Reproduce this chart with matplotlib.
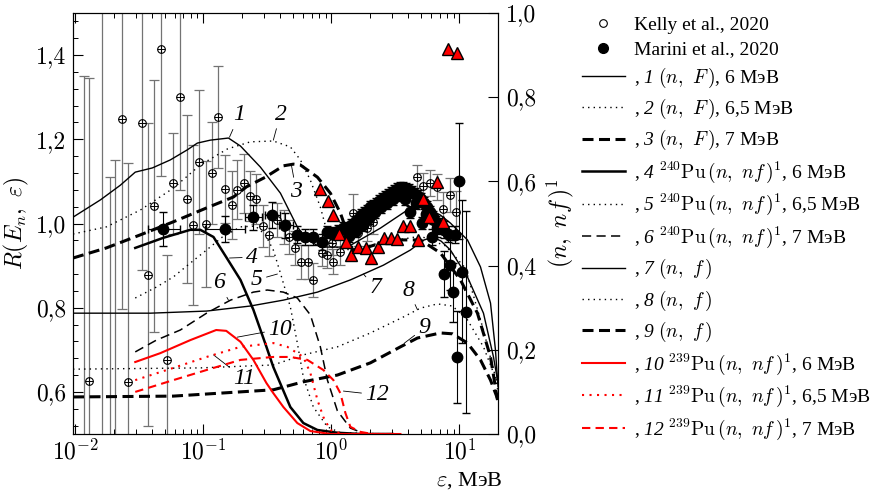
import matplotlib
matplotlib.use("Agg")
import matplotlib.pyplot as plt
from matplotlib.lines import Line2D
from matplotlib.ticker import MultipleLocator, LogLocator, NullFormatter, NullLocator

plt.rcParams.update({
    "font.family": "Liberation Serif",
    "mathtext.fontset": "custom",
    "mathtext.rm": "cmr10",
    "mathtext.it": "cmmi10",
    "mathtext.bf": "cmb10",
    "mathtext.sf": "Liberation Serif:italic",
    "mathtext.cal": "cmsy10",
    "mathtext.tt": "cmtt10",
    "mathtext.fallback": "cm",
})

# ---- calculated curves, left axis R(E_n, eps) ----
e1 = [0.0096, 0.0157, 0.0225, 0.0294, 0.040, 0.0552, 0.075, 0.0898, 0.1135, 0.157, 0.195, 0.279,
      0.400, 0.542, 0.649, 0.820, 1.334, 2.414, 3.924, 5.0, 6.15, 7.1, 8.5, 11.55, 14.59, 17.48, 19.1, 20.0]
r1 = [1.015, 1.056, 1.091, 1.122, 1.132, 1.151, 1.175, 1.191, 1.198, 1.203, 1.184, 1.134,
      1.072, 0.992, 0.961, 0.944, 0.944, 0.989, 1.032, 1.038, 1.030, 1.020, 1.001, 0.961, 0.897, 0.811, 0.700, 0.612]

e2 = [0.0096, 0.0175, 0.0322, 0.0583, 0.0947, 0.154, 0.233, 0.352, 0.478, 0.573, 0.685, 0.820,
      0.931, 1.074, 1.407, 2.414, 4.957, 7.773, 11.14, 15.40, 19.11, 20.0]
r2 = [0.975, 0.992, 1.032, 1.084, 1.139, 1.177, 1.194, 1.196, 1.182, 1.151, 1.103, 1.039,
      0.977, 0.944, 0.937, 0.954, 0.970, 0.947, 0.894, 0.747, 0.635, 0.600]

e3 = [0.0096, 0.0175, 0.0322, 0.0583, 0.106, 0.172, 0.217, 0.305, 0.422, 0.505, 0.573, 0.778,
      0.982, 1.175, 1.334, 1.459, 1.843, 2.889, 4.957, 7.105, 10.18, 13.82, 17.48, 19.81]
r3 = [0.918, 0.942, 0.973, 1.004, 1.037, 1.063, 1.087, 1.110, 1.137, 1.141, 1.139, 1.110,
      1.072, 1.025, 0.977, 0.937, 0.942, 0.961, 0.961, 0.930, 0.866, 0.787, 0.683, 0.581]

e7 = [0.0096, 0.0386, 0.106, 0.233, 0.422, 0.778, 1.407, 2.547, 4.141, 5.2, 6.2, 7.2, 8.5,
      11.55, 15.40, 18.44, 20.0]
r7 = [0.787, 0.787, 0.792, 0.804, 0.818, 0.837, 0.866, 0.901, 0.937, 0.960, 0.968, 0.958, 0.937,
      0.873, 0.787, 0.683, 0.621]

e8 = [0.0096, 0.0947, 0.352, 0.604, 1.114, 2.017, 3.652, 4.957, 6.731, 8.816, 11.55, 15.40, 19.81]
r8 = [0.654, 0.657, 0.664, 0.688, 0.707, 0.740, 0.778, 0.799, 0.809, 0.804, 0.771, 0.707, 0.621]

e9 = [0.0096, 0.0583, 0.352, 0.604, 1.114, 2.017, 3.461, 4.697, 7.105, 8.816, 11.55, 14.59, 17.48, 20.0]
r9 = [0.588, 0.590, 0.605, 0.624, 0.640, 0.669, 0.707, 0.728, 0.740, 0.738, 0.716, 0.676, 0.628, 0.581]

# ---- (n, nf)^1 curves, right axis ----
e4 = [0.0294, 0.0487, 0.0791, 0.0947, 0.120, 0.151, 0.195, 0.246, 0.311, 0.352, 0.478, 0.604,
      0.778, 1.114, 1.685, 3.0]
r4 = [0.442, 0.466, 0.485, 0.485, 0.468, 0.420, 0.366, 0.295, 0.207, 0.159, 0.064, 0.026,
      0.0095, 0.003, 0.0, 0.0]

e5 = [0.0294, 0.0430, 0.0583, 0.0791, 0.106, 0.141, 0.195, 0.255, 0.305, 0.352, 0.400, 0.478,
      0.542, 0.604, 0.723, 0.931, 1.175, 3.0]
r5 = [0.323, 0.349, 0.373, 0.406, 0.437, 0.468, 0.492, 0.494, 0.473, 0.437, 0.382, 0.302,
      0.216, 0.135, 0.064, 0.017, 0.003, 0.0]

e6 = [0.0294, 0.0430, 0.0661, 0.106, 0.163, 0.246, 0.316, 0.422, 0.542, 0.685, 0.820, 0.931,
      1.114, 1.407, 1.843, 3.0]
r6 = [0.195, 0.223, 0.247, 0.287, 0.318, 0.337, 0.342, 0.337, 0.323, 0.283, 0.207, 0.128,
      0.055, 0.014, 0.0, 0.0]

e10 = [0.0294, 0.0461, 0.0791, 0.126, 0.151, 0.195, 0.246, 0.311, 0.352, 0.422, 0.542, 0.685, 0.982, 3.46]
r10 = [0.171, 0.192, 0.223, 0.247, 0.245, 0.219, 0.176, 0.121, 0.097, 0.064, 0.026, 0.007, 0.0, 0.0]

e11 = [0.0294, 0.0583, 0.106, 0.195, 0.352, 0.453, 0.604, 0.685, 0.778, 0.866, 0.982, 1.219, 3.0]
r11 = [0.128, 0.157, 0.183, 0.207, 0.216, 0.207, 0.183, 0.145, 0.081, 0.040, 0.0095, 0.0, 0.0]

e12 = [0.0294, 0.0583, 0.106, 0.195, 0.352, 0.478, 0.649, 0.866, 1.037, 1.175, 1.286, 1.407,
       1.685, 2.091, 3.0]
r12 = [0.100, 0.128, 0.152, 0.176, 0.183, 0.183, 0.176, 0.152, 0.128, 0.097, 0.050, 0.017,
       0.005, 0.0, 0.0]

# ---- Kelly et al., 2020 ----
kelly_e = [0.0118, 0.0129, 0.0163, 0.0188, 0.0205, 0.0233, 0.026, 0.0334, 0.0372, 0.0414, 0.047,
           0.0523, 0.0583, 0.0661, 0.075, 0.0835, 0.0931, 0.104, 0.1175, 0.131, 0.148, 0.166,
           0.184, 0.209, 0.233, 0.260, 0.294, 0.328, 0.379, 0.430, 0.470, 0.523, 0.583, 0.661,
           0.723, 0.851, 0.931, 1.018, 1.037, 1.175, 1.486, 1.625, 1.910, 2.129, 4.697, 5.231,
           5.934, 6.731, 7.499, 8.504, 9.474]
kelly_r = [0.40, 0.626, 0.45, 0.40, 0.45, 1.248, 0.624, 1.239, 0.878, 1.042, 1.414,
           0.676, 1.096, 1.300, 1.058, 0.996, 1.146, 0.999, 1.120, 1.253, 1.082, 1.044,
           1.080, 1.096, 1.065, 1.058, 0.994, 0.973, 1.008, 0.992, 0.968, 0.942, 0.909, 0.909,
           0.866, 0.930, 0.925, 0.954, 0.909, 0.932, 1.025, 0.977, 0.989, 1.004, 1.110, 1.089,
           1.096, 1.087, 1.034, 1.068, 1.027]
kelly_err = [0.95, 0.72, 1.1, 0.71, 0.70, 0.45, 0.52, 0.35, 0.36, 0.30, 0.30,
             0.25, 0.12, 0.22, 0.20, 0.19, 0.17, 0.15, 0.12, 0.12, 0.08, 0.08,
             0.07, 0.07, 0.06, 0.06, 0.05, 0.05, 0.04, 0.04, 0.04, 0.04, 0.04, 0.04,
             0.04, 0.03, 0.03, 0.03, 0.03, 0.03, 0.045, 0.03, 0.03, 0.03, 0.03, 0.03,
             0.03, 0.03, 0.04, 0.04, 0.05]

# ---- Marini et al., 2020 ----
marini_low_e = [0.0487, 0.148, 0.246, 0.346, 0.437]
marini_low_r = [0.987, 0.987, 1.015, 1.020, 0.996]
marini_low_err = [0.04, 0.03, 0.03, 0.03, 0.03]
marini_low_xlo = [0.012, 0.045, 0.035, 0.045, 0.05]
marini_low_xhi = [0.017, 0.065, 0.04, 0.05, 0.06]

marini_e = [0.542, 0.627, 0.723, 0.851, 0.931, 1.037, 1.134, 1.241, 1.334, 1.383, 1.433, 1.540,
            1.568, 1.625, 1.715, 1.778, 1.810, 1.910, 1.98, 2.017, 2.129, 2.207, 2.247, 2.371,
            2.458, 2.502, 2.640, 2.74, 2.787, 2.941, 3.05, 3.105, 3.278, 3.40, 3.461, 3.652,
            3.785, 3.854, 4.067, 4.141, 4.293, 4.531, 4.61, 4.782, 5.047, 5.138, 5.326, 5.52,
            5.623, 5.934, 6.152, 6.264, 6.611, 6.731, 7.105, 7.635, 8.204, 9.305,
            10.0, 7.635, 8.504, 8.976, 10.55, 11.34, 9.645]
marini_r = [0.973, 0.968, 0.968, 0.956, 0.980, 0.977, 0.982, 0.989, 0.987, 0.970, 0.996, 1.004,
            0.982, 1.011, 1.020, 0.996, 1.025, 1.030, 1.013, 1.039, 1.042, 1.027, 1.046, 1.053,
            1.039, 1.058, 1.063, 1.049, 1.068, 1.072, 1.058, 1.077, 1.082, 1.068, 1.084, 1.084,
            1.058, 1.082, 1.080, 1.027, 1.075, 1.070, 1.049, 1.065, 1.058, 1.001, 1.049, 1.023,
            1.039, 1.027, 0.968, 1.015, 1.004, 0.989, 0.994, 0.985, 0.975, 0.973,
            1.101, 0.880, 0.901, 0.837, 0.885, 0.790, 0.683]
marini_err = [0.02, 0.02, 0.02, 0.02, 0.015, 0.015, 0.015, 0.015, 0.015, 0.015, 0.015, 0.015,
              0.015, 0.015, 0.015, 0.015, 0.015, 0.015, 0.015, 0.015, 0.015, 0.015, 0.015, 0.015,
              0.015, 0.015, 0.015, 0.015, 0.015, 0.015, 0.015, 0.015, 0.015, 0.015, 0.015, 0.015,
              0.015, 0.015, 0.015, 0.015, 0.015, 0.015, 0.015, 0.015, 0.015, 0.015, 0.015, 0.015,
              0.015, 0.015, 0.02, 0.015, 0.015, 0.02, 0.02, 0.02, 0.02, 0.02,
              0.138, 0.055, 0.06, 0.07, 0.17, 0.24, 0.11]

# ---- red triangles ----
tri_e = [0.820, 0.947, 1.037, 1.155, 1.310, 1.433, 1.625, 1.876, 2.054, 2.329, 2.593, 2.941,
         3.278, 3.652, 4.141, 4.782, 5.231, 5.829, 6.731, 7.499, 8.204, 9.645]
tri_r = [1.082, 1.053, 1.020, 0.975, 0.956, 0.925, 0.944, 0.942, 0.918, 0.944, 0.966, 0.966,
         0.963, 0.994, 0.994, 0.961, 1.058, 1.015, 1.099, 1.004, 1.414, 1.405]

ylim_left = (0.5, 1.5)
ylim_right = (0.0, 1.0)
xlim = (0.0096, 20.0)

fig = plt.figure(figsize=(8.86, 4.96), dpi=100)
ax = fig.add_axes([73 / 886, 1 - 434 / 496, 425 / 886, 421 / 496])
ax.set_xscale("log")
ax.set_xlim(*xlim)
ax.set_ylim(*ylim_left)

# experimental data
ax.errorbar(kelly_e, kelly_r, yerr=kelly_err, fmt="none", ecolor="0.45",
            elinewidth=0.9, capsize=3.5, capthick=0.9, zorder=1)
ax.plot(kelly_e, kelly_r, ls="none", marker="o", ms=5.5, mfc="none", mec="k", mew=0.8, zorder=3)
ax.plot(kelly_e, kelly_r, ls="none", marker="+", ms=5.5, color="k", mew=0.7, zorder=3)

ax.errorbar(marini_low_e, marini_low_r, yerr=marini_low_err,
            xerr=[marini_low_xlo, marini_low_xhi], fmt="o", ms=7.5, color="k",
            ecolor="k", elinewidth=0.8, capsize=3, zorder=3)
ax.errorbar(marini_e, marini_r, yerr=marini_err, fmt="o", ms=7.5, color="k",
            ecolor="k", elinewidth=0.8, capsize=3, zorder=3)
ax.plot(tri_e, tri_r, ls="none", marker="^", ms=8.5, mfc="red", mec="k", mew=1.0, zorder=4)

# left-axis curves
l1, = ax.plot(e1, r1, color="k", lw=1.0, zorder=2)
l2, = ax.plot(e2, r2, color="k", lw=1.0, dashes=(1, 3), zorder=2)
l3, = ax.plot(e3, r3, color="k", lw=2.2, dashes=(3.6, 1.8), zorder=2)
l7, = ax.plot(e7, r7, color="k", lw=1.0, zorder=2)
l8, = ax.plot(e8, r8, color="k", lw=1.0, dashes=(1, 3), zorder=2)
l9, = ax.plot(e9, r9, color="k", lw=2.2, dashes=(3.6, 1.8), zorder=2)

ax2 = ax.twinx()
ax2.set_ylim(*ylim_right)
l4, = ax2.plot(e4, r4, color="k", lw=1.8)
l5, = ax2.plot(e5, r5, color="k", lw=1.0, dashes=(1, 3))
l6, = ax2.plot(e6, r6, color="k", lw=1.1, dashes=(6, 3.5))
l10, = ax2.plot(e10, r10, color="red", lw=1.5)
l11, = ax2.plot(e11, r11, color="red", lw=1.5, dashes=(1, 2.6))
l12, = ax2.plot(e12, r12, color="red", lw=1.5, dashes=(4, 2.5))

# ticks
tick_font = dict(fontfamily="cmr10", fontsize=17)
ax.set_xticks([0.01, 0.1, 1, 10], labels=[r"$10^{-2}$", r"$10^{-1}$", r"$10^{0}$", r"$10^{1}$"], fontsize=17)
ax.xaxis.set_minor_locator(LogLocator(base=10, subs=range(2, 10), numticks=20))
ax.xaxis.set_minor_formatter(NullFormatter())
ax.set_yticks([0.6, 0.8, 1.0, 1.2, 1.4], labels=["0,6", "0,8", "1,0", "1,2", "1,4"], **tick_font)
ax.yaxis.set_minor_locator(MultipleLocator(0.04))
ax.tick_params(which="both", direction="in", top=True, right=False)
ax.tick_params(which="major", length=7, width=0.8)
ax.tick_params(which="minor", length=3.5, width=0.7)
ax.tick_params(axis="x", pad=4)
ax.tick_params(axis="y", pad=5)

ax2.set_yticks([0.0, 0.2, 0.4, 0.6, 0.8, 1.0], labels=["0,0", "0,2", "0,4", "0,6", "0,8", "1,0"], **tick_font)
ax2.yaxis.set_minor_locator(NullLocator())
ax2.tick_params(which="major", direction="in", length=7, width=0.8, pad=6)

# axis labels
ax.set_ylabel(r"$R(E_n,\ \varepsilon)$", fontsize=17)
ax.yaxis.set_label_coords(-0.098, 0.5)
ax2.set_ylabel(r"$(n,\ nf\,)^1$", fontsize=17)
ax2.yaxis.set_label_coords(1.11, 0.5)
ax.set_xlabel(r"$\varepsilon$, МэВ", fontsize=16, loc="right")
ax.xaxis.set_label_coords(1.01, -0.085)

# curve numbers with leader lines
curve_tags = [
    ("1", (0.160, 1.205), (0.191, 1.258)),
    ("2", (0.352, 1.198), (0.400, 1.260)),
    ("3", (0.487, 1.139), (0.533, 1.075)),
    ("4", (0.160, 0.918), (0.241, 0.920)),
    ("5", (0.379, 0.880), (0.260, 0.866)),
    ("6", (0.157, 0.818), (0.133, 0.859)),
    ("7", (1.778, 0.880), (2.21, 0.847)),
    ("8", (4.70, 0.795), (4.0, 0.842)),
    ("9", (3.72, 0.716), (5.33, 0.752)),
    ("10", (0.184, 0.730), (0.400, 0.749)),
    ("11", (0.120, 0.688), (0.209, 0.631)),
    ("12", (1.241, 0.602), (2.29, 0.593)),
]
for tag, xy, xytext in curve_tags:
    ax.annotate(tag, xy=xy, xytext=xytext, fontsize=17, family="Liberation Serif",
                style="italic", ha="center", va="center", zorder=6,
                arrowprops=dict(arrowstyle="-", lw=0.6, color="k", shrinkA=1, shrinkB=0))

# legend
kelly_h = Line2D([], [], ls="none", marker="o", ms=5.5, mfc="none", mec="k", mew=0.8)
marini_h = Line2D([], [], ls="none", marker="o", ms=7, color="k")
handles = [kelly_h, marini_h, l1, l2, l3, l4, l5, l6, l7, l8, l9, l10, l11, l12]
labels = [
    "Kelly et al., 2020",
    "Marini et al., 2020",
    r", $\mathsf{1}$ $(n,\ F\,)$, 6 МэВ",
    r", $\mathsf{2}$ $(n,\ F\,)$, 6,5 МэВ",
    r", $\mathsf{3}$ $(n,\ F\,)$, 7 МэВ",
    r", $\mathsf{4}$ $^{240}\mathrm{Pu}\,(n,\ nf\,)^1$, 6 МэВ",
    r", $\mathsf{5}$ $^{240}\mathrm{Pu}\,(n,\ nf\,)^1$, 6,5 МэВ",
    r", $\mathsf{6}$ $^{240}\mathrm{Pu}\,(n,\ nf\,)^1$, 7 МэВ",
    r", $\mathsf{7}$ $(n,\ f\,)$",
    r", $\mathsf{8}$ $(n,\ f\,)$",
    r", $\mathsf{9}$ $(n,\ f\,)$",
    r", $\mathsf{10}$ $^{239}\mathrm{Pu}\,(n,\ nf\,)^1$, 6 МэВ",
    r", $\mathsf{11}$ $^{239}\mathrm{Pu}\,(n,\ nf\,)^1$, 6,5 МэВ",
    r", $\mathsf{12}$ $^{239}\mathrm{Pu}\,(n,\ nf\,)^1$, 7 МэВ",
]
fig.legend(handles, labels, loc="upper left", bbox_to_anchor=(582 / 886, 1 - 16 / 496),
           frameon=False, fontsize=14, handlelength=2.2, handletextpad=0.45,
           labelspacing=0.37, borderpad=0, borderaxespad=0)

fig.savefig("out.png", dpi=100)
